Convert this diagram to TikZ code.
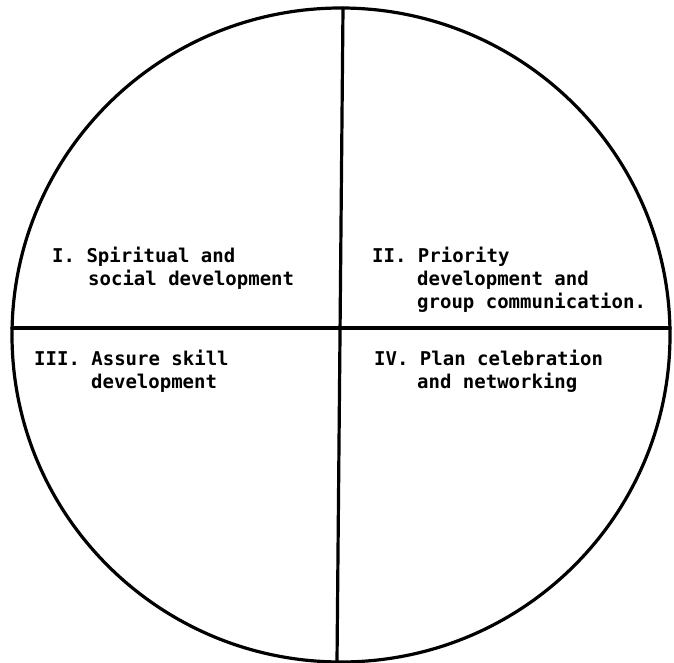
\documentclass[tikz,border=0pt]{standalone}
\usepackage{fontspec}
\newfontfamily\labelfont{DejaVu Sans Mono}
\tikzset{
  lbl/.style={anchor=base west, inner sep=0pt, font=\labelfont\bfseries\fontsize{19}{23}\selectfont},
  rule/.style={line width=3.2pt, line cap=round}
}
\begin{document}
\begin{tikzpicture}[x=1pt,y=-1pt]
\useasboundingbox (0,0) rectangle (674,663);
\coordinate (c) at (341,335);
\coordinate (top) at (343,8);
\coordinate (bot) at (337,662);
\coordinate (lft) at (12,328);
\coordinate (rgt) at (670,328);
\draw[rule] (c) ellipse [x radius=329pt, y radius=327pt];
\draw[rule] (top) -- (bot);
\draw[rule] (lft) -- (rgt);
\node[lbl] (q1a) at (52,262) {I. Spiritual and};
\node[lbl] (q1b) at (88,285) {social development};
\node[lbl] (q2a) at (372,262) {II. Priority};
\node[lbl] (q2b) at (417,285) {development and};
\node[lbl] (q2c) at (417,308) {group communication.};
\node[lbl] (q3a) at (34,365) {III. Assure skill};
\node[lbl] (q3b) at (91,388) {development};
\node[lbl] (q4a) at (374,365) {IV. Plan celebration};
\node[lbl] (q4b) at (417,388) {and networking};
\end{tikzpicture}
\end{document}
